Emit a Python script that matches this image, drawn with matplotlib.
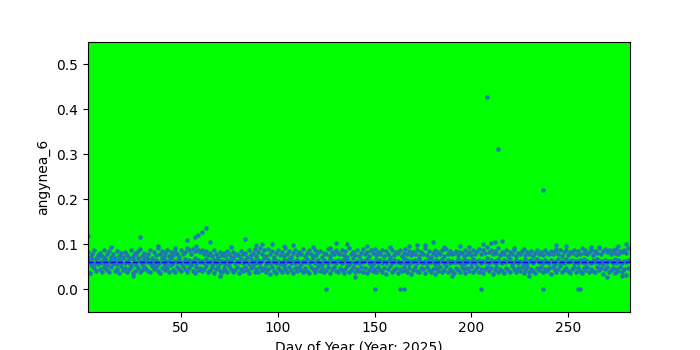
import numpy as np
import matplotlib
matplotlib.use("Agg")
import matplotlib.pyplot as plt

first_day = 2
last_day = 281

lower_vals = [
    0.038,0.035,0.052,0.047,0.041,0.056,0.044,0.039,0.050,0.046,
    0.043,0.037,0.048,0.055,0.040,0.045,0.036,0.051,0.042,0.047,
    0.039,0.044,0.050,0.036,0.041,0.053,0.046,0.038,0.043,0.049,
    0.045,0.040,0.037,0.052,0.044,0.048,0.041,0.035,0.047,0.050,
    0.042,0.046,0.039,0.054,0.043,0.037,0.049,0.045,0.040,0.051,
    0.044,0.038,0.047,0.053,0.041,0.036,0.049,0.043,0.046,0.040,
    0.045,0.052,0.039,0.042,0.048,0.036,0.044,0.050,0.041,0.037,
    0.047,0.043,0.039,0.051,0.045,0.038,0.042,0.049,0.036,0.044,
    0.040,0.048,0.043,0.035,0.046,0.052,0.039,0.044,0.037,0.050,
    0.042,0.047,0.038,0.045,0.033,0.049,0.041,0.036,0.046,0.043,
    0.039,0.051,0.044,0.037,0.048,0.042,0.035,0.046,0.040,0.050,
    0.043,0.038,0.047,0.041,0.036,0.049,0.044,0.039,0.045,0.052,
    0.040,0.046,0.037,0.043,0.048,0.035,0.044,0.050,0.041,0.038,
    0.047,0.042,0.036,0.045,0.051,0.039,0.043,0.048,0.037,0.044,
    0.041,0.049,0.038,0.046,0.035,0.043,0.050,0.040,0.045,0.037,
    0.048,0.042,0.039,0.046,0.033,0.044,0.051,0.038,0.043,0.047,
    0.036,0.045,0.040,0.049,0.042,0.037,0.046,0.034,0.043,0.050,
    0.041,0.038,0.047,0.044,0.036,0.049,0.042,0.039,0.045,0.033,
    0.046,0.040,0.048,0.037,0.043,0.051,0.039,0.045,0.041,0.036,
    0.047,0.042,0.038,0.050,0.044,0.035,0.046,0.041,0.049,0.037,
    0.043,0.048,0.039,0.045,0.036,0.044,0.050,0.040,0.047,0.034,
    0.042,0.049,0.038,0.045,0.041,0.036,0.047,0.043,0.039,0.051,
    0.044,0.037,0.046,0.040,0.048,0.035,0.043,0.050,0.039,0.045,
    0.041,0.036,0.047,0.043,0.049,0.038,0.044,0.040,0.046,0.034,
    0.048,0.042,0.039,0.045,0.051,0.037,0.043,0.047,0.040,0.036,
    0.044,0.049,0.038,0.046,0.041,0.035,0.047,0.043,0.050,0.039,
    0.045,0.040,0.037,0.048,0.042,0.046,0.034,0.044,0.049,0.038,
    0.043,0.047,0.036,0.045,0.041,0.050,0.039,0.044,0.032,0.046,
]

middle_vals = [
    0.062,0.058,0.066,0.055,0.060,0.068,0.057,0.063,0.059,0.065,
    0.054,0.061,0.067,0.058,0.063,0.056,0.064,0.060,0.069,0.057,
    0.063,0.059,0.055,0.066,0.061,0.058,0.070,0.062,0.056,0.064,
    0.060,0.067,0.057,0.063,0.059,0.065,0.055,0.061,0.068,0.058,
    0.064,0.056,0.062,0.069,0.058,0.063,0.060,0.066,0.057,0.061,
    0.067,0.059,0.064,0.056,0.062,0.070,0.058,0.065,0.061,0.063,
    0.057,0.066,0.060,0.062,0.055,0.064,0.059,0.067,0.058,0.063,
    0.061,0.056,0.065,0.059,0.063,0.068,0.057,0.062,0.060,0.066,
    0.058,0.064,0.061,0.055,0.067,0.060,0.063,0.057,0.065,0.059,
    0.062,0.068,0.056,0.064,0.059,0.061,0.066,0.058,0.063,0.055,
    0.060,0.065,0.058,0.062,0.067,0.057,0.063,0.059,0.064,0.061,
    0.056,0.063,0.060,0.066,0.058,0.062,0.069,0.057,0.061,0.064,
    0.059,0.055,0.064,0.061,0.058,0.066,0.060,0.063,0.057,0.065,
    0.062,0.058,0.067,0.060,0.064,0.056,0.061,0.068,0.059,0.063,
    0.057,0.064,0.060,0.062,0.066,0.058,0.063,0.055,0.061,0.067,
    0.060,0.065,0.058,0.063,0.059,0.062,0.066,0.057,0.064,0.060,
    0.063,0.057,0.061,0.068,0.059,0.064,0.056,0.062,0.060,0.065,
    0.058,0.066,0.061,0.057,0.063,0.059,0.067,0.060,0.062,0.056,
    0.064,0.059,0.062,0.066,0.058,0.061,0.065,0.057,0.063,0.060,
    0.061,0.067,0.058,0.063,0.056,0.064,0.060,0.062,0.059,0.066,
    0.057,0.062,0.065,0.059,0.063,0.061,0.068,0.058,0.064,0.060,
    0.063,0.058,0.066,0.061,0.057,0.064,0.060,0.062,0.067,0.059,
    0.060,0.065,0.058,0.063,0.061,0.056,0.066,0.059,0.062,0.064,
    0.058,0.062,0.067,0.060,0.063,0.057,0.065,0.061,0.059,0.064,
    0.061,0.056,0.063,0.066,0.059,0.062,0.058,0.067,0.060,0.063,
    0.065,0.059,0.062,0.057,0.064,0.061,0.066,0.058,0.063,0.060,
    0.058,0.064,0.061,0.067,0.059,0.062,0.056,0.065,0.060,0.063,
    0.062,0.059,0.066,0.058,0.064,0.061,0.057,0.063,0.060,0.065,
]

upper_vals = [
    0.082,0.071,0.078,0.086,0.069,0.075,0.081,0.073,0.088,0.070,
    0.077,0.084,0.072,0.079,0.068,0.085,0.074,0.080,0.071,0.083,
    0.076,0.069,0.087,0.073,0.080,0.078,0.085,0.090,0.074,0.081,
    0.072,0.079,0.086,0.070,0.083,0.075,0.091,0.077,0.084,0.073,
    0.080,0.088,0.074,0.082,0.076,0.085,0.079,0.071,0.087,0.078,
    0.083,0.092,0.086,0.079,0.090,0.084,0.095,0.088,0.082,0.087,
    0.078,0.084,0.076,0.081,0.073,0.086,0.079,0.072,0.083,0.075,
    0.080,0.074,0.085,0.077,0.071,0.082,0.076,0.079,0.073,0.084,
    0.078,0.081,0.072,0.087,0.075,0.080,0.089,0.074,0.083,0.092,
    0.079,0.086,0.073,0.090,0.077,0.084,0.071,0.081,0.088,0.076,
    0.083,0.074,0.092,0.078,0.085,0.072,0.080,0.087,0.075,0.082,
    0.077,0.089,0.073,0.081,0.086,0.079,0.074,0.088,0.076,0.083,
    0.085,0.072,0.080,0.078,0.090,0.074,0.083,0.077,0.086,0.081,
    0.079,0.088,0.075,0.084,0.072,0.091,0.078,0.082,0.076,0.087,
    0.074,0.081,0.089,0.077,0.083,0.073,0.086,0.080,0.090,0.075,
    0.082,0.078,0.087,0.074,0.084,0.079,0.071,0.088,0.076,0.083,
    0.080,0.086,0.073,0.081,0.089,0.077,0.084,0.075,0.082,0.078,
    0.087,0.074,0.083,0.079,0.091,0.076,0.085,0.072,0.080,0.088,
    0.075,0.082,0.078,0.086,0.073,0.089,0.079,0.084,0.077,0.081,
    0.085,0.076,0.083,0.080,0.074,0.088,0.078,0.082,0.075,0.087,
    0.079,0.084,0.090,0.077,0.086,0.081,0.094,0.083,0.088,0.078,
    0.085,0.080,0.091,0.076,0.083,0.079,0.087,0.074,0.082,0.078,
    0.086,0.073,0.081,0.077,0.084,0.089,0.075,0.082,0.079,0.085,
    0.074,0.080,0.087,0.078,0.083,0.076,0.088,0.081,0.079,0.085,
    0.077,0.084,0.090,0.079,0.086,0.073,0.082,0.088,0.076,0.083,
    0.080,0.087,0.075,0.084,0.078,0.091,0.081,0.086,0.079,0.083,
    0.088,0.076,0.085,0.080,0.092,0.078,0.084,0.089,0.082,0.087,
    0.079,0.086,0.081,0.090,0.077,0.085,0.083,0.088,0.080,0.092,
]

extra_days = [2, 3, 29, 53, 57, 59, 61, 63, 65, 83,
              92, 97, 108, 125, 130, 136, 150, 163, 165, 172,
              180, 205, 206, 208, 210, 212, 214, 216, 237, 237,
              255, 256, 25, 70, 140, 190, 230, 270, 278,
              14, 38, 47, 76, 89, 103, 118, 127, 146, 158,
              168, 176, 186, 194, 199, 222, 244, 249, 262, 266, 276, 280]
extra_vals = [0.118, 0.035, 0.115, 0.110, 0.115, 0.120, 0.128, 0.137, 0.105, 0.112,
              0.100, 0.100, 0.097, 0.0, 0.103, 0.100, 0.0, 0.0, 0.0, 0.098,
              0.105, 0.0, 0.100, 0.427, 0.103, 0.105, 0.311, 0.108, 0.220, 0.0,
              0.0, 0.0, 0.028, 0.030, 0.027, 0.029, 0.030, 0.026, 0.028,
              0.094, 0.096, 0.092, 0.093, 0.097, 0.095, 0.094, 0.092, 0.096, 0.093,
              0.095, 0.097, 0.093, 0.096, 0.094, 0.092, 0.097, 0.095, 0.094, 0.093, 0.096, 0.101]

mean_value = 0.061

days = np.arange(first_day, last_day + 1)
x = np.concatenate([days, days, days, np.array(extra_days)])
y = np.concatenate([lower_vals, middle_vals, upper_vals, extra_vals])

fig, ax = plt.subplots(figsize=(7, 3.5), dpi=100)
ax.set_facecolor('#00ff00')
ax.scatter(x, y, s=5, color='#1f77b4', zorder=2)
ax.axhline(mean_value, color='blue', linestyle='--', linewidth=1, zorder=3)
ax.set_xlim(1.7, 282)
ax.set_ylim(-0.05, 0.55)
ax.set_xlabel('Day of Year (Year: 2025)')
ax.set_ylabel('angynea_6')
fig.savefig('out.png', dpi=100)
